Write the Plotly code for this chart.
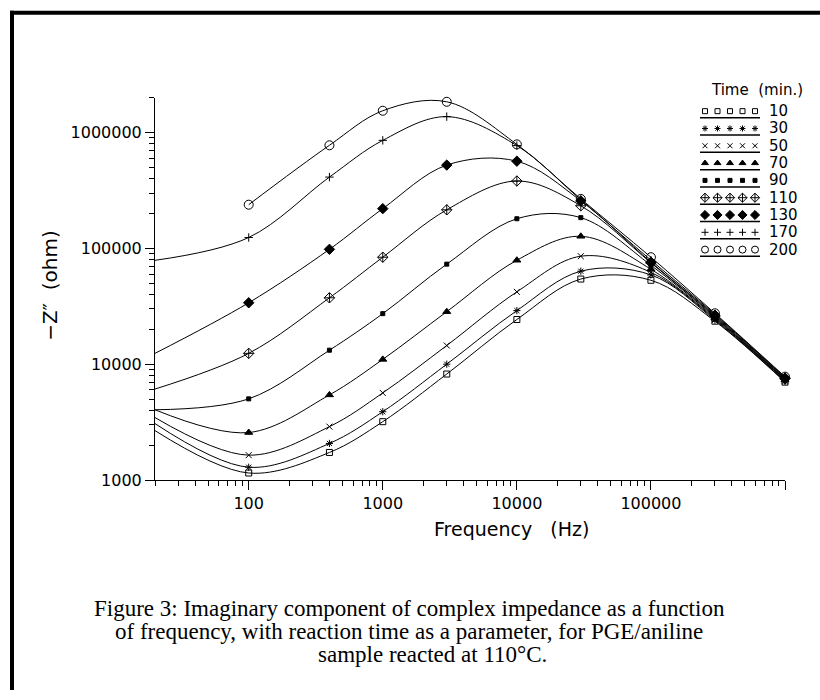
import plotly.graph_objects as go

# ---------------- data ----------------
freq = [20, 100, 400, 1000, 3000, 10000, 30000, 100000, 300000, 1000000]
time_labels = ["10", "30", "50", "70", "90", "110", "130", "170", "200"]

z10 = [2670, 1150, 1730, 3190, 8220, 24300, 54300, 53000, 23500, 7000]
z30 = [3070, 1290, 2070, 3890, 10000, 29000, 63500, 59000, 24000, 7100]
z50 = [3460, 1640, 2890, 5650, 14500, 42100, 85500, 62000, 24500, 7200]
z70 = [4040, 2570, 5430, 11000, 28400, 78900, 127000, 66000, 25000, 7300]
z90 = [4040, 5020, 13200, 27300, 73000, 180000, 184000, 71500, 25500, 7400]
z110 = [6100, 12400, 37400, 83800, 215000, 381000, 233000, 75000, 26000, 7500]
z130 = [12400, 33900, 98000, 220000, 523000, 565000, 257000, 76000, 26500, 7600]
z170 = [78800, 124000, 412000, 855000, 1370000, 770000, 262000, 79000, 27000, 7700]
z200 = [None, 238000, 775000, 1540000, 1840000, 789000, 267000, 83800, 27500, 7800]

series = [z10, z30, z50, z70, z90, z110, z130, z170, z200]

x_tickvals = [100, 1000, 10000, 100000, 1000000]
x_ticktext = ["100", "1000", "10000", "100000", "1000000"]
y_tickvals = [1000, 10000, 100000, 1000000]
y_ticktext = ["1000", "10000", "100000", "1000000"]

symbols = ["square-open", "asterisk-open", "x-thin-open", "triangle-up", "square",
           "diamond-cross-open", "diamond", "cross-thin-open", "circle-open"]
sizes = [6, 6, 6, 7, 4, 8, 8, 6, 9]
legend_sizes = [5, 5, 5, 6, 4, 7, 7, 5, 7]

# ---------------- layout helpers ----------------
W, H = 820, 700
PX0, PX1, PY0, PY1 = 155, 785, 99, 487


def px(x):
    return x / W


def py(y):
    return 1 - y / H


SANS = "DejaVu Sans"
SERIF = "Liberation Serif, Times New Roman, serif"

fig = go.Figure()

for vals, sym, sz in zip(series, symbols, sizes):
    fig.add_trace(go.Scatter(
        x=freq, y=vals, mode="lines+markers",
        line=dict(color="black", width=1, shape="spline"),
        marker=dict(symbol=sym, size=sz, color="black",
                    line=dict(color="black", width=1)),
        showlegend=False, cliponaxis=False, hoverinfo="skip"))

# custom legend (five markers with an underline per row)
legend_slots = [0, 1, 2, 3, 4]
for i, (sym, sz) in enumerate(zip(symbols, legend_sizes)):
    fig.add_trace(go.Scatter(
        x=legend_slots, y=[i] * len(legend_slots), mode="markers",
        marker=dict(symbol=sym, size=sz, color="black",
                    line=dict(color="black", width=1)),
        xaxis="x2", yaxis="y2", showlegend=False, cliponaxis=False,
        hoverinfo="skip"))
    fig.add_trace(go.Scatter(
        x=[legend_slots[0] - 0.4, legend_slots[-1] + 0.4], y=[i + 0.38, i + 0.38],
        mode="lines", line=dict(color="black", width=1.5),
        xaxis="x2", yaxis="y2", showlegend=False, cliponaxis=False,
        hoverinfo="skip"))

minor_x = [m * 10 ** e for e in range(1, 6) for m in range(2, 10) if 20 <= m * 10 ** e <= 1e6]
minor_y = [m * 10 ** e for e in range(3, 7) for m in range(2, 10) if m * 10 ** e <= 2e6]

annotations = []
for i, lab in enumerate(time_labels):
    annotations.append(dict(text=lab, x=px(767), xref="paper", xanchor="left",
                            y=i, yref="y2", yanchor="middle", showarrow=False,
                            font=dict(family=SANS, size=15, color="black")))
annotations.append(dict(text="Time\u00a0\u00a0(min.)", x=px(709), xref="paper", xanchor="left",
                        y=py(91), yref="paper", yanchor="middle", showarrow=False,
                        font=dict(family=SANS, size=15, color="black")))
annotations.append(dict(text="Frequency\u00a0\u00a0\u00a0(Hz)", x=px(511), xref="paper", xanchor="center",
                        y=py(537), yref="paper", yanchor="middle", showarrow=False,
                        font=dict(family=SANS, size=19, color="black")))
annotations.append(dict(text="\u2212Z\u2033\u00a0\u00a0(ohm)", x=px(50), xref="paper", xanchor="center",
                        y=py(290), yref="paper", yanchor="middle", showarrow=False, textangle=-90,
                        font=dict(family=SANS, size=20, color="black")))
caption = [
    ("Figure 3: Imaginary component of complex impedance as a function", 409, 617),
    ("of frequency, with reaction time as a parameter, for PGE/aniline", 409, 641),
    ("sample reacted at 110\u00b0C.", 432, 664),
]
for txt, cx, cy in caption:
    annotations.append(dict(text=txt, x=px(cx), xref="paper", xanchor="center",
                            y=py(cy), yref="paper", yanchor="middle", showarrow=False,
                            font=dict(family=SERIF, size=23, color="black")))

shapes = [
    dict(type="rect", xref="paper", yref="paper", x0=px(10), x1=px(14), y0=py(700), y1=py(11),
         fillcolor="black", line=dict(width=0)),
    dict(type="rect", xref="paper", yref="paper", x0=px(10), x1=1, y0=py(15), y1=py(11),
         fillcolor="black", line=dict(width=0)),
]

tickfont = dict(family=SANS, size=16, color="black")

fig.update_layout(
    width=W, height=H,
    margin=dict(l=0, r=0, t=0, b=0),
    paper_bgcolor="white", plot_bgcolor="white",
    showlegend=False,
    xaxis=dict(type="log", range=[1.30103, 6], domain=[px(PX0), px(PX1)],
               tickvals=x_tickvals, ticktext=x_ticktext, ticks="outside", ticklen=9,
               tickcolor="black", tickwidth=1, showline=True, linecolor="black", linewidth=1,
               showgrid=False, zeroline=False, tickfont=tickfont, anchor="y",
               minor=dict(tickvals=minor_x, ticks="outside", ticklen=5, tickcolor="black",
                          showgrid=False)),
    yaxis=dict(type="log", range=[3, 6.30103], domain=[py(PY1), py(PY0)],
               tickvals=y_tickvals, ticktext=y_ticktext, ticks="outside", ticklen=9,
               tickcolor="black", tickwidth=1, showline=True, linecolor="black", linewidth=1,
               showgrid=False, zeroline=False, tickfont=tickfont, anchor="x",
               minor=dict(tickvals=minor_y, ticks="outside", ticklen=5, tickcolor="black",
                          showgrid=False)),
    xaxis2=dict(domain=[px(698.75), px(761.25)], range=[-0.5, 4.5], visible=False,
                anchor="y2", fixedrange=True),
    yaxis2=dict(domain=[py(262), py(104)], range=[8.5, -0.5], visible=False,
                anchor="x2", fixedrange=True),
    annotations=annotations,
    shapes=shapes,
)

fig.write_html("out.html")
